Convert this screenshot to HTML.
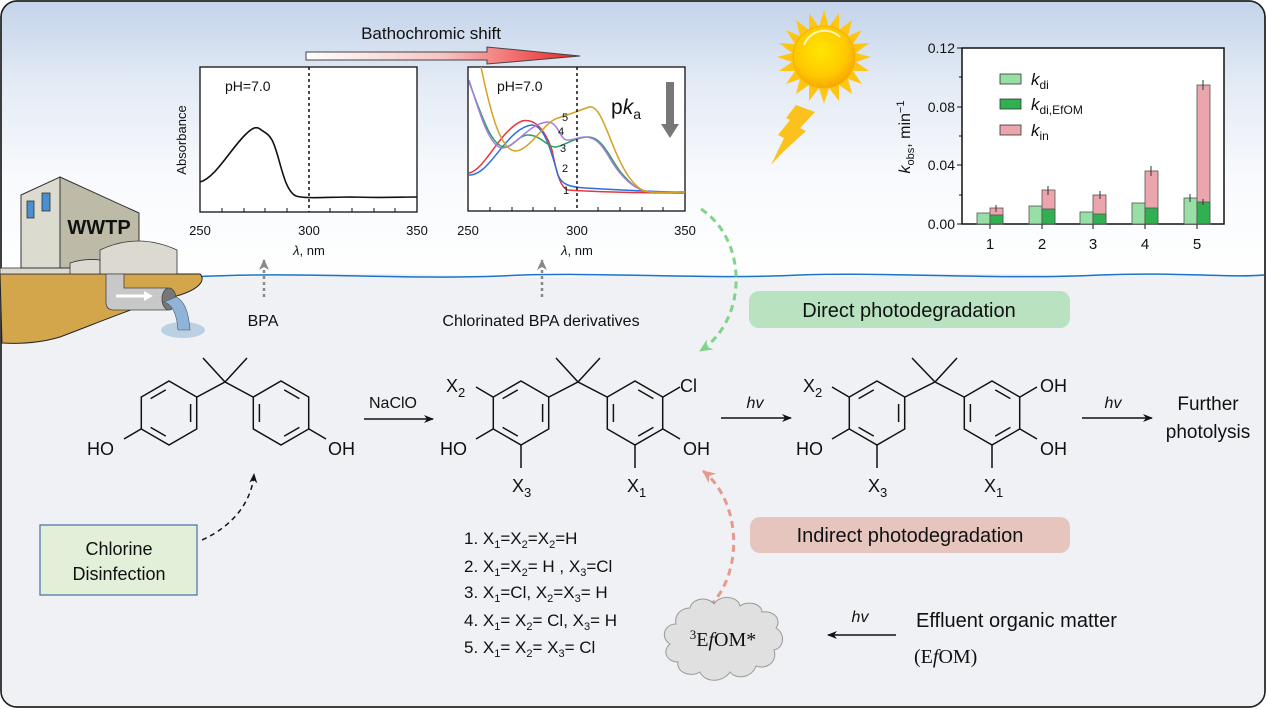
<!DOCTYPE html>
<html><head><meta charset="utf-8"><style>
html,body{margin:0;padding:0;background:#fff;}
svg{display:block;font-family:"Liberation Sans",Arial,sans-serif;}
</style></head><body>
<svg width="1268" height="709" viewBox="0 0 1268 709" xmlns="http://www.w3.org/2000/svg">
<defs>
<linearGradient id="sky" x1="0" y1="0" x2="0" y2="709" gradientUnits="userSpaceOnUse">
<stop offset="0" stop-color="#c3d3ea"/><stop offset="0.12" stop-color="#e4ebf5"/><stop offset="0.25" stop-color="#f8fafd"/><stop offset="0.4" stop-color="#ffffff"/><stop offset="1" stop-color="#ffffff"/>
</linearGradient>
<linearGradient id="arr" x1="0" y1="0" x2="1" y2="0">
<stop offset="0" stop-color="#ffffff"/><stop offset="0.5" stop-color="#f7c4c4"/><stop offset="1" stop-color="#ee2020"/>
</linearGradient>
<radialGradient id="sun" cx="0.45" cy="0.4" r="0.6">
<stop offset="0" stop-color="#ffe600"/><stop offset="0.7" stop-color="#ffc800"/><stop offset="1" stop-color="#f7a800"/>
</radialGradient>
<g id="ring" fill="none" stroke="#111" stroke-width="1.5">
<polygon points="0,-32 27.7,-16 27.7,16 0,32 -27.7,16 -27.7,-16"/>
<line x1="-18.4" y1="-14.4" x2="-3.2" y2="-23.1"/>
<line x1="21.6" y1="-9" x2="21.6" y2="9"/>
<line x1="-3.2" y1="23.1" x2="-18.4" y2="14.4"/>
</g>
<marker id="ah" markerWidth="10" markerHeight="10" refX="9" refY="5" orient="auto" markerUnits="userSpaceOnUse"><path d="M0,1 L10,5 L0,9 L3,5 Z" fill="#111"/></marker>
<marker id="ahg" markerWidth="14" markerHeight="14" refX="12" refY="7" orient="auto" markerUnits="userSpaceOnUse"><path d="M0,1 L13,7 L0,13 L4,7 Z" fill="#7fd38a"/></marker>
<marker id="ahp" markerWidth="14" markerHeight="14" refX="12" refY="7" orient="auto" markerUnits="userSpaceOnUse"><path d="M0,1 L13,7 L0,13 L4,7 Z" fill="#e8998c"/></marker>
<marker id="ahgr" markerWidth="12" markerHeight="12" refX="10" refY="6" orient="auto" markerUnits="userSpaceOnUse"><path d="M0,1 L11,6 L0,11 L3,6 Z" fill="#888"/></marker>
</defs>

<rect x="1" y="1" width="1264" height="706" rx="16" fill="url(#sky)" stroke="#222" stroke-width="1.5"/>
<path d="M2,274 C100,272 200,280 300,275 C400,270 500,280 600,276 C700,272 800,280 900,275 C1000,271 1100,279 1264,274 L1264,692 Q1264,706 1250,706 L16,706 Q2,706 2,692 Z" fill="#eff1f5"/>
<path d="M190,277 C300,271 400,280 500,276 C600,271 700,280 800,275 C900,272 1000,280 1100,275 C1180,272 1230,278 1264,275" fill="none" stroke="#1a74c9" stroke-width="1.5"/>
<rect x="1" y="1" width="1264" height="706" rx="16" fill="none" stroke="#222" stroke-width="1.5"/>

<!-- WWTP -->
<path d="M0,274 L200,274 C206,280 200,290 173,297 C140,305 110,318 60,337 C40,343 20,344 2,343 Z" fill="#d4a64c" stroke="#222" stroke-width="1"/>
<rect x="0" y="268" width="72" height="6" fill="#dcdad0" stroke="#333" stroke-width="0.8"/>
<polygon points="21,195 60,177 60,268 21,268" fill="#dcdbcf" stroke="#333" stroke-width="1"/>
<polygon points="60,177 139,213 139,268 60,268" fill="#bdbaa7" stroke="#333" stroke-width="1"/>
<rect x="27" y="201" width="7" height="17" fill="#4a90d0" stroke="#333" stroke-width="0.8"/>
<rect x="42" y="193" width="8" height="18" fill="#4a90d0" stroke="#333" stroke-width="0.8"/>
<text x="99" y="234" font-size="20" font-weight="bold" text-anchor="middle" fill="#111">WWTP</text>
<path d="M70,274 L70,263 Q85,258 100,260 L100,274 Z" fill="#dcdad0" stroke="#333" stroke-width="0.8"/>
<path d="M100,274 L100,250 Q138,232 177,250 L177,274 Z" fill="#dcdad0" stroke="#333" stroke-width="0.8"/>
<path d="M106,274 L106,302 Q106,310 114,310 L168,310 L168,288 L124,288 L124,274 Z" fill="#c8c8c8" stroke="#444" stroke-width="0.8"/>
<ellipse cx="169" cy="299" rx="7" ry="11" fill="#777" stroke="#444" stroke-width="0.8"/>
<path d="M116,296 L146,296" stroke="#fff" stroke-width="3"/><path d="M144,291 L153,296 L144,301 Z" fill="#fff"/>
<ellipse cx="183" cy="330" rx="22" ry="8" fill="#bcd0e4"/>
<path d="M164,302 Q176,305 178,330 L190,330 Q188,302 176,297 Z" fill="#8fb4d8" stroke="#456" stroke-width="0.6"/>

<text x="431" y="39" font-size="17" text-anchor="middle" fill="#111">Bathochromic shift</text>
<path d="M306,52 L487,52 L487,47 L580,56 L487,64 L487,60 L306,60 Z" fill="url(#arr)" stroke="#444" stroke-width="1"/>

<!-- Chart 1 -->
<rect x="200" y="67" width="217" height="145" fill="#fff" stroke="#111" stroke-width="1.3"/>
<line x1="309" y1="67" x2="309" y2="212" stroke="#111" stroke-width="1.5" stroke-dasharray="3,3"/>
<g stroke="#111" stroke-width="1"><line x1="222" y1="212" x2="222" y2="208"/><line x1="244" y1="212" x2="244" y2="208"/><line x1="265" y1="212" x2="265" y2="208"/><line x1="287" y1="212" x2="287" y2="208"/><line x1="330" y1="212" x2="330" y2="208"/><line x1="352" y1="212" x2="352" y2="208"/><line x1="374" y1="212" x2="374" y2="208"/><line x1="395" y1="212" x2="395" y2="208"/></g>
<text x="225" y="91" font-size="14" fill="#111">pH=7.0</text>
<path d="M200,182 C215,178 230,150 245,135 C252,128 256,126 260,129 C265,133 268,133 272,140 C280,155 283,190 296,196 C305,199 330,197 350,197 C380,198 400,197 417,197" fill="none" stroke="#111" stroke-width="1.6"/>
<text x="186" y="140" font-size="13" text-anchor="middle" transform="rotate(-90 186 140)" fill="#111">Absorbance</text>
<g font-size="13" text-anchor="middle" fill="#111"><text x="200" y="235">250</text><text x="309" y="235">300</text><text x="417" y="235">350</text><text x="309" y="255"><tspan font-style="italic">λ</tspan>, nm</text></g>

<!-- Chart 2 -->
<rect x="468" y="67" width="217" height="144" fill="#fff" stroke="#111" stroke-width="1.3"/>
<g stroke="#111" stroke-width="1"><line x1="490" y1="211" x2="490" y2="207"/><line x1="512" y1="211" x2="512" y2="207"/><line x1="533" y1="211" x2="533" y2="207"/><line x1="555" y1="211" x2="555" y2="207"/><line x1="598" y1="211" x2="598" y2="207"/><line x1="620" y1="211" x2="620" y2="207"/><line x1="642" y1="211" x2="642" y2="207"/><line x1="663" y1="211" x2="663" y2="207"/></g>
<text x="497" y="91" font-size="14" fill="#111">pH=7.0</text>
<g fill="none" stroke-width="1.5">
<path d="M469,173 C485,170 500,130 522,121 C535,118 545,130 552,150 C556,170 560,188 568,190 C600,192 650,193 685,193" stroke="#e8363a"/>
<path d="M469,175 C490,176 505,130 531,125 C545,124 552,155 558,175 C562,185 570,187 585,188 C620,190 660,192 685,192" stroke="#2a6fe0"/>
<path d="M469,82 C480,110 490,145 504,147 C512,148 518,136 527,135 C540,134 548,148 556,147 C566,145 575,137 589,137 C605,138 612,165 625,177 C633,186 640,191 650,192 C665,193 675,192 685,192" stroke="#2aa060"/>
<path d="M469,80 C480,115 490,147 502,148 C515,148 528,124 547,122 C558,121 560,140 567,140 C575,140 578,137 585,137 C603,137 608,160 620,173 C630,185 640,191 650,192 C665,193 675,192 685,192" stroke="#a87ae0"/>
<path d="M481,67 C490,110 500,151 516,151 C530,150 545,121 558,118 C568,115 575,112 589,107 C603,104 610,150 629,177 C637,188 642,191 650,192 C665,193 675,192 685,192" stroke="#d4a020"/>
</g>
<line x1="577" y1="67" x2="577" y2="211" stroke="#111" stroke-width="1.5" stroke-dasharray="3,3"/>
<g font-size="11" fill="#111"><text x="562" y="121">5</text><text x="558" y="135">4</text><text x="560" y="152">3</text><text x="562" y="172">2</text><text x="563" y="194">1</text></g>
<text x="611" y="114" font-size="21" fill="#111">p<tspan font-style="italic">k</tspan><tspan font-size="14" dy="5">a</tspan></text>
<path d="M666,82 L674,82 L674,124 L679,124 L670,138 L661,124 L666,124 Z" fill="#777"/>
<g font-size="13" text-anchor="middle" fill="#111"><text x="468" y="235">250</text><text x="577" y="235">300</text><text x="685" y="235">350</text><text x="577" y="255"><tspan font-style="italic">λ</tspan>, nm</text></g>

<line x1="264" y1="297" x2="264" y2="260" stroke="#888" stroke-width="2.5" stroke-dasharray="3,3" marker-end="url(#ahgr)"/>
<line x1="542" y1="297" x2="542" y2="260" stroke="#888" stroke-width="2.5" stroke-dasharray="3,3" marker-end="url(#ahgr)"/>
<text x="263" y="326" font-size="16" text-anchor="middle" fill="#111">BPA</text>
<text x="541" y="326" font-size="16" text-anchor="middle" fill="#111">Chlorinated BPA derivatives</text>

<!-- Sun -->
<g transform="translate(824,57)">
<polygon points="0,-47 5,-30 15,-44 15,-27 28,-37 24,-21 38,-27 29,-13 45,-14 32,-4 47,0 32,5 45,14 29,14 38,27 24,22 28,37 15,28 15,44 5,31 0,47 -5,31 -15,44 -15,28 -28,37 -24,22 -38,27 -29,14 -45,14 -32,5 -47,0 -32,-4 -45,-14 -29,-13 -38,-27 -24,-21 -28,-37 -15,-27 -15,-44 -5,-30" fill="#ffc515"/>
<circle r="31" fill="url(#sun)" stroke="#f2b100" stroke-width="1"/>
<path d="M-20,-12 A22,22 0 0 1 16,-20" fill="none" stroke="#fff6b0" stroke-width="2"/>
</g>
<polygon points="796,105 815,112 800,128 806,131 782,153 771,165 784,138 778,135 790,120 786,118" fill="#fbc21e"/>

<!-- Bar chart -->
<g>
<rect x="962" y="48" width="262" height="176" fill="#fff" stroke="#111" stroke-width="1.5"/>
<g stroke="#111" stroke-width="1"><line x1="957" y1="48" x2="962" y2="48"/><line x1="959" y1="77" x2="962" y2="77"/><line x1="957" y1="107" x2="962" y2="107"/><line x1="959" y1="136" x2="962" y2="136"/><line x1="957" y1="165" x2="962" y2="165"/><line x1="959" y1="195" x2="962" y2="195"/><line x1="957" y1="224" x2="962" y2="224"/>
<line x1="990" y1="224" x2="990" y2="229"/><line x1="1042" y1="224" x2="1042" y2="229"/><line x1="1093" y1="224" x2="1093" y2="229"/><line x1="1145" y1="224" x2="1145" y2="229"/><line x1="1197" y1="224" x2="1197" y2="229"/></g>
<g font-size="14" text-anchor="end" fill="#111"><text x="955" y="53">0.12</text><text x="955" y="112">0.08</text><text x="955" y="170">0.04</text><text x="955" y="229">0.00</text></g>
<g font-size="15" text-anchor="middle" fill="#111"><text x="990" y="249">1</text><text x="1042" y="249">2</text><text x="1093" y="249">3</text><text x="1145" y="249">4</text><text x="1197" y="249">5</text></g>
<g stroke="#555" stroke-width="0.8">
<rect x="977" y="213" width="13" height="11" fill="#98dfa6"/><rect x="990" y="208" width="13" height="16" fill="#eba5ad"/><rect x="990" y="215" width="13" height="9" fill="#30b050"/>
<rect x="1029" y="206" width="13" height="18" fill="#98dfa6"/><rect x="1042" y="190" width="13" height="34" fill="#eba5ad"/><rect x="1042" y="209" width="13" height="15" fill="#30b050"/>
<rect x="1080" y="212" width="13" height="12" fill="#98dfa6"/><rect x="1093" y="195" width="13" height="29" fill="#eba5ad"/><rect x="1093" y="214" width="13" height="10" fill="#30b050"/>
<rect x="1132" y="203" width="13" height="21" fill="#98dfa6"/><rect x="1145" y="171" width="13" height="53" fill="#eba5ad"/><rect x="1145" y="208" width="13" height="16" fill="#30b050"/>
<rect x="1184" y="198" width="13" height="26" fill="#98dfa6"/><rect x="1197" y="85" width="13" height="139" fill="#eba5ad"/><rect x="1197" y="202" width="13" height="22" fill="#30b050"/>
</g>
<g stroke="#333" stroke-width="1"><line x1="996" y1="205" x2="996" y2="212"/><line x1="1048" y1="186" x2="1048" y2="195"/><line x1="1100" y1="191" x2="1100" y2="199"/><line x1="1151" y1="166" x2="1151" y2="176"/><line x1="1203" y1="80" x2="1203" y2="90"/><line x1="1190" y1="194" x2="1190" y2="202"/><line x1="1203" y1="199" x2="1203" y2="205"/></g>
<rect x="1000" y="74" width="21" height="10" fill="#98dfa6" stroke="#333" stroke-width="0.8"/>
<rect x="1000" y="99" width="21" height="10" fill="#30b050" stroke="#333" stroke-width="0.8"/>
<rect x="1000" y="125" width="21" height="10" fill="#eba5ad" stroke="#333" stroke-width="0.8"/>
<g font-size="17" fill="#111"><text x="1031" y="85"><tspan font-style="italic">k</tspan><tspan font-size="12" dy="4">di</tspan></text>
<text x="1031" y="110"><tspan font-style="italic">k</tspan><tspan font-size="12" dy="4">di,EfOM</tspan></text>
<text x="1031" y="136"><tspan font-style="italic">k</tspan><tspan font-size="12" dy="4">in</tspan></text></g>
<text x="910" y="137" font-size="16" text-anchor="middle" transform="rotate(-90 910 137)" fill="#111"><tspan font-style="italic">k</tspan><tspan font-size="11" dy="4">obs</tspan><tspan dy="-4">, min</tspan><tspan font-size="11" dy="-6">−1</tspan></text>
</g>

<rect x="749" y="291" width="321" height="37" rx="10" fill="#b8e2c0"/>
<text x="909" y="317" font-size="20" text-anchor="middle" fill="#111">Direct photodegradation</text>
<rect x="750" y="517" width="320" height="36" rx="10" fill="#e6c5bf"/>
<text x="910" y="542" font-size="20" text-anchor="middle" fill="#111">Indirect photodegradation</text>
<rect x="40" y="525" width="157" height="70" fill="#e2efd9" stroke="#4a6fa5" stroke-width="1.2"/>
<text x="119" y="555" font-size="18" text-anchor="middle" fill="#111">Chlorine</text>
<text x="119" y="580" font-size="18" text-anchor="middle" fill="#111">Disinfection</text>

<path d="M701,209 C748,240 748,320 700,351" fill="none" stroke="#7fd38a" stroke-width="3" stroke-dasharray="7,5" marker-end="url(#ahg)"/>
<path d="M710,606 C745,570 740,500 703,471" fill="none" stroke="#e8998c" stroke-width="3" stroke-dasharray="7,5" marker-end="url(#ahp)"/>
<path d="M202,540 C235,525 252,500 254,474" fill="none" stroke="#111" stroke-width="1.5" stroke-dasharray="5,4" marker-end="url(#ah)"/>

<!-- BPA -->
<use href="#ring" x="169" y="413"/>
<use href="#ring" transform="translate(281,413) scale(-1,1)"/>
<g stroke="#111" stroke-width="1.5" fill="none">
<path d="M197,397 L225,382 L253,397 M225,382 L203,358 M225,382 L247,358 M141,429 L124,439 M309,429 L326,439"/>
</g>
<g font-size="18" fill="#111"><text x="87" y="455">HO</text><text x="328" y="455">OH</text></g>
<text x="393" y="408" font-size="16" text-anchor="middle" fill="#111">NaClO</text>
<line x1="364" y1="419" x2="433" y2="419" stroke="#111" stroke-width="1.5" marker-end="url(#ah)"/>

<!-- Compound 2 -->
<use href="#ring" x="521" y="413"/>
<use href="#ring" transform="translate(635,413) scale(-1,1)"/>
<g stroke="#111" stroke-width="1.5" fill="none">
<path d="M549,397 L578,382 L607,397 M578,382 L556,358 M578,382 L600,358 M493,397 L476,387 M493,429 L476,439 M521,445 L521,468 M663,397 L680,387 M663,429 L680,439 M635,445 L635,468"/>
</g>
<g font-size="18" fill="#111">
<text x="446" y="392">X<tspan font-size="13" dy="5">2</tspan></text>
<text x="440" y="455">HO</text>
<text x="512" y="492">X<tspan font-size="13" dy="5">3</tspan></text>
<text x="680" y="392">Cl</text>
<text x="683" y="455">OH</text>
<text x="627" y="492">X<tspan font-size="13" dy="5">1</tspan></text>
</g>
<text x="755" y="408" font-size="16" font-style="italic" text-anchor="middle" fill="#111">hv</text>
<line x1="721" y1="418" x2="791" y2="418" stroke="#111" stroke-width="1.5" marker-end="url(#ah)"/>

<!-- Compound 3 -->
<use href="#ring" x="877" y="413"/>
<use href="#ring" transform="translate(992,413) scale(-1,1)"/>
<g stroke="#111" stroke-width="1.5" fill="none">
<path d="M905,397 L935,382 L964,397 M935,382 L912,358 M935,382 L957,358 M849,397 L832,387 M849,429 L832,439 M877,445 L877,468 M1020,397 L1037,387 M1020,429 L1037,439 M992,445 L992,468"/>
</g>
<g font-size="18" fill="#111">
<text x="803" y="392">X<tspan font-size="13" dy="5">2</tspan></text>
<text x="796" y="455">HO</text>
<text x="868" y="492">X<tspan font-size="13" dy="5">3</tspan></text>
<text x="1040" y="392">OH</text>
<text x="1040" y="455">OH</text>
<text x="984" y="492">X<tspan font-size="13" dy="5">1</tspan></text>
</g>
<text x="1113" y="408" font-size="16" font-style="italic" text-anchor="middle" fill="#111">hv</text>
<line x1="1082" y1="418" x2="1152" y2="418" stroke="#111" stroke-width="1.5" marker-end="url(#ah)"/>
<text x="1208" y="410" font-size="19" text-anchor="middle" fill="#111">Further</text>
<text x="1208" y="438" font-size="19" text-anchor="middle" fill="#111">photolysis</text>

<g font-size="17" fill="#111">
<text x="464" y="544">1. X<tspan font-size="11" dy="4">1</tspan><tspan dy="-4">=X</tspan><tspan font-size="11" dy="4">2</tspan><tspan dy="-4">=X</tspan><tspan font-size="11" dy="4">2</tspan><tspan dy="-4">=H</tspan></text>
<text x="464" y="572">2. X<tspan font-size="11" dy="4">1</tspan><tspan dy="-4">=X</tspan><tspan font-size="11" dy="4">2</tspan><tspan dy="-4">= H , X</tspan><tspan font-size="11" dy="4">3</tspan><tspan dy="-4">=Cl</tspan></text>
<text x="464" y="598">3. X<tspan font-size="11" dy="4">1</tspan><tspan dy="-4">=Cl, X</tspan><tspan font-size="11" dy="4">2</tspan><tspan dy="-4">=X</tspan><tspan font-size="11" dy="4">3</tspan><tspan dy="-4">= H</tspan></text>
<text x="464" y="626">4. X<tspan font-size="11" dy="4">1</tspan><tspan dy="-4">= X</tspan><tspan font-size="11" dy="4">2</tspan><tspan dy="-4">= Cl, X</tspan><tspan font-size="11" dy="4">3</tspan><tspan dy="-4">= H</tspan></text>
<text x="464" y="653">5. X<tspan font-size="11" dy="4">1</tspan><tspan dy="-4">= X</tspan><tspan font-size="11" dy="4">2</tspan><tspan dy="-4">= X</tspan><tspan font-size="11" dy="4">3</tspan><tspan dy="-4">= Cl</tspan></text>
</g>

<path d="M690,608 C692,598 708,596 714,604 C720,594 738,596 740,606 C748,600 762,604 762,612 C774,610 782,620 776,628 C786,634 784,648 774,650 C778,662 766,670 756,666 C752,678 736,680 730,672 C722,684 704,682 700,672 C690,678 676,672 678,662 C666,662 662,650 670,644 C660,638 664,624 676,624 C674,614 682,608 690,608 Z" fill="#e0e0e0" stroke="#999" stroke-width="1"/>
<text x="723" y="646" font-size="20" text-anchor="middle" font-family="Liberation Serif,serif" fill="#111"><tspan font-size="13" dy="-7">3</tspan><tspan dy="7">E</tspan><tspan font-style="italic">f</tspan>OM*</text>

<text x="860" y="622" font-size="16" font-style="italic" text-anchor="middle" fill="#111">hv</text>
<line x1="896" y1="635" x2="828" y2="635" stroke="#111" stroke-width="1.5" marker-end="url(#ah)"/>
<text x="916" y="627" font-size="20" fill="#111">Effluent organic matter</text>
<text x="914" y="663" font-size="20" font-family="Liberation Serif,serif" fill="#111">(E<tspan font-style="italic">f</tspan>OM)</text>
</svg>
</body></html>
